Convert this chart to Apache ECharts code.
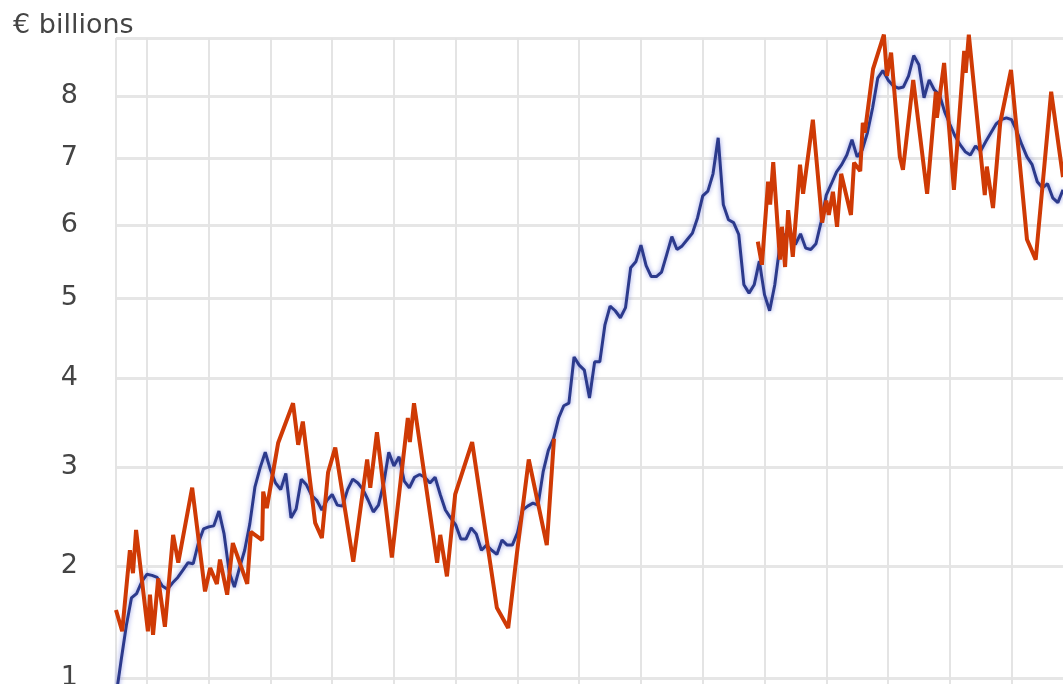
<!DOCTYPE html>
<html>
<head>
<meta charset="utf-8">
<script src="https://cdn.jsdelivr.net/npm/echarts@6/dist/echarts.min.js"></script>
<style>
  html, body { margin: 0; padding: 0; background: #fff; }
  #chart { width: 1063px; height: 684px; }
</style>
</head>
<body>
<div id="chart"></div>
<script>
// months from 1998-07 to 2013-11
const months = [];
for (let y = 1998, m = 7; months.length < 185; m++) {
    if (m > 12) { m = 1; y++; }
    months.push(y + '-' + String(m).padStart(2, '0'));
}

// blue: monthly values, € billions
const blueValues = [
    0.85, 1.15, 1.45, 1.70, 1.74, 1.85, 1.92, 1.91, 1.89, 1.81,
    1.78, 1.84, 1.89, 1.96, 2.03, 2.02, 2.22, 2.36, 2.38, 2.39,
    2.54, 2.31, 1.94, 1.80, 1.98, 2.15, 2.41, 2.79, 2.99, 3.16,
    2.97, 2.83, 2.76, 2.93, 2.47, 2.56, 2.87, 2.81, 2.70, 2.65,
    2.55, 2.65, 2.71, 2.60, 2.59, 2.76, 2.87, 2.83, 2.76, 2.65,
    2.53, 2.60, 2.82, 3.16, 3.01, 3.11, 2.85, 2.78, 2.89, 2.92,
    2.89, 2.83, 2.89, 2.71, 2.55, 2.47, 2.40, 2.26, 2.26, 2.37,
    2.31, 2.15, 2.20, 2.15, 2.11, 2.25, 2.20, 2.20, 2.32, 2.55,
    2.59, 2.62, 2.60, 2.95, 3.18, 3.31, 3.54, 3.68, 3.71, 4.26,
    4.16, 4.10, 3.77, 4.20, 4.20, 4.66, 4.90, 4.84, 4.75, 4.88,
    5.41, 5.49, 5.72, 5.44, 5.29, 5.29, 5.35, 5.59, 5.84, 5.66,
    5.71, 5.80, 5.89, 6.11, 6.43, 6.50, 6.76, 7.32, 6.30, 6.08,
    6.04, 5.87, 5.18, 5.07, 5.18, 5.50, 5.05, 4.84, 5.18, 5.72,
    5.87, 5.91, 5.73, 5.88, 5.68, 5.66, 5.74, 6.05, 6.44, 6.61,
    6.79, 6.90, 7.05, 7.29, 7.02, 7.13, 7.40, 7.80, 8.30, 8.43,
    8.27, 8.17, 8.13, 8.15, 8.34, 8.69, 8.53, 7.97, 8.27, 8.10,
    8.02, 7.74, 7.54, 7.35, 7.21, 7.10, 7.05, 7.19, 7.11, 7.26,
    7.40, 7.54, 7.61, 7.64, 7.61, 7.43, 7.21, 7.02, 6.90, 6.64,
    6.55, 6.61, 6.40, 6.33, 6.52
];

// red: irregular observations, time in months since 1998-07 (null = gap)
const redTime = [
    0, 1.2, 2.7, 3.3, 3.9, 6.2, 6.6, 7.2, 8.2, 9.5,
    11.1, 12.1, 14.8, 17.3, 18.3, 19.6, 20.2, 21.6, 22.7, 25.5,
    26.2, 28.4, 28.6, 29.3, 31.5, 34.4, 35.4, 36.3, 38.7, 40.0,
    41.2, 42.6, 46.1, 48.8, 49.4, 50.7, 53.6, 56.7, 57.1, 57.9,
    62.4, 63.0, 64.3, 65.9, 69.2, 74.0, 76.2, 77.9, 80.2, 83.7,
    85.1, 105,
    124.7, 125.5, 126.7, 127.1, 127.7, 129.0, 129.4, 130.0, 130.6, 131.5,
    132.9, 133.5, 135.4, 137.2, 138.0, 138.5, 139.3, 140.1, 140.9, 142.8,
    143.4, 144.6, 145.1, 145.5, 147.1, 149.2, 149.8, 150.6, 152.3, 152.9,
    154.9, 157.6, 159.3, 159.5, 160.9, 162.8, 164.8, 165.1, 165.7, 168.8,
    169.2, 170.4, 171.8, 173.9, 177.0, 178.7, 181.7, 184.0
];
const redValues = [
    1.59, 1.40, 2.15, 1.93, 2.35, 1.40, 1.73, 1.37, 1.88, 1.44,
    2.30, 2.03, 2.78, 1.76, 1.98, 1.83, 2.06, 1.73, 2.22, 1.83,
    2.33, 2.25, 2.74, 2.57, 3.26, 3.71, 3.24, 3.50, 2.42, 2.27,
    2.94, 3.21, 2.04, 3.08, 2.78, 3.38, 2.08, 3.54, 3.27, 3.71,
    2.03, 2.30, 1.90, 2.71, 3.27, 1.61, 1.43, 2.12, 3.08, 2.20,
    3.31, null,
    5.77, 5.45, 6.64, 6.30, 6.94, 5.52, 5.98, 5.42, 6.22, 5.56,
    6.90, 6.46, 7.61, 6.04, 6.36, 6.15, 6.49, 5.98, 6.76, 6.15,
    6.93, 6.80, 7.56, 7.40, 8.46, 9.06, 8.34, 8.74, 7.02, 6.82,
    8.27, 6.46, 8.07, 7.64, 8.56, 6.52, 8.77, 8.39, 9.06, 6.44,
    6.87, 6.25, 7.56, 8.44, 5.80, 5.52, 8.07, 6.71
];

const yTicks = [1, 2, 3, 4, 5, 6, 7, 8, 9];
const yLabels = [1, 2, 3, 4, 5, 6, 7, 8];

// the vertical scale is compressed like log(v + 6)
const OFFSET = 6;
const toAxis = v => (v == null ? null : Math.log(v + OFFSET));
const fromAxis = a => Math.exp(a) - OFFSET;

const chart = echarts.init(document.getElementById('chart'), null, {renderer: 'canvas'});

const option = {
    animation: false,
    title: {
        text: '€ billions',
        left: 8,
        top: 7,
        textStyle: {fontFamily: 'DejaVu Sans', fontSize: 27, fontWeight: 'normal', color: '#444'}
    },
    // keep the plot box as given, labels may run off the edge
    grid: {left: 116, top: 38, right: 0, bottom: 0, outerBoundsMode: 'none'},
    xAxis: [
        {
            type: 'category',
            data: months,
            boundaryGap: false,
            axisLine: {show: false},
            axisTick: {show: false},
            axisLabel: {show: false},
            splitLine: {
                show: true,
                interval: (idx, val) => idx === 0 || val.endsWith('-01'),
                lineStyle: {color: '#e4e4e4', width: 2}
            }
        },
        {
            type: 'value',
            min: 0,
            max: months.length - 1,
            show: false
        }
    ],
    yAxis: {
        type: 'value',
        // bottom of the plot sits at about 0.95
        min: toAxis(0.95),
        max: toAxis(9),
        axisLine: {show: false},
        axisTick: {show: false, customValues: yTicks.map(toAxis)},
        axisLabel: {
            customValues: yLabels.map(toAxis),
            formatter: v => String(Math.round(fromAxis(v))),
            margin: 38,
            fontFamily: 'DejaVu Sans',
            fontSize: 27,
            color: '#444'
        },
        splitLine: {show: true, lineStyle: {color: '#e6e6e6', width: 3}}
    },
    series: [
        {
            name: 'blue',
            type: 'line',
            xAxisIndex: 0,
            data: blueValues.map(toAxis),
            showSymbol: false,
            clip: false,
            lineStyle: {
                color: '#2c3a8c',
                width: 3,
                shadowColor: 'rgba(70, 85, 210, 0.6)',
                shadowBlur: 5
            }
        },
        {
            name: 'red',
            type: 'line',
            xAxisIndex: 1,
            data: redTime.map((t, k) => [t, toAxis(redValues[k])]),
            showSymbol: false,
            clip: false,
            lineStyle: {color: '#cf3a05', width: 4}
        }
    ]
};

chart.setOption(option);
</script>
</body>
</html>
